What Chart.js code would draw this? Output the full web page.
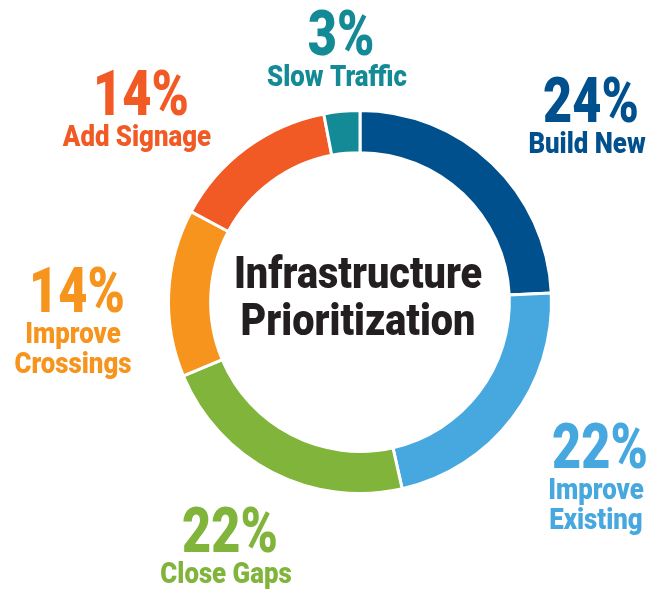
<!DOCTYPE html>
<html>
<head>
<meta charset="utf-8">
<script src="https://cdn.jsdelivr.net/npm/chart.js@4.4.0/dist/chart.umd.min.js"></script>
<style>
  html, body { margin: 0; padding: 0; background: #fff; }
  #wrap { width: 659px; height: 590px; }
</style>
</head>
<body>
<div id="wrap"><canvas id="grafico" width="659" height="590"></canvas></div>
<script>
// datos del grafico
const categorias = ['Build New', 'Improve Existing', 'Close Gaps', 'Improve Crossings', 'Add Signage', 'Slow Traffic'];
const valores = [24, 22, 22, 14, 14, 3];
const colores = ['#00508d', '#46a8df', '#80b43a', '#f7941d', '#f15a24', '#138a96'];

// donde va cada etiqueta (centro x, linea base del %), en el mismo orden
const posEtiquetas = [
  { x: 591, y: 122, lineas: ['Build New'] },
  { x: 600, y: 468, lineas: ['Improve', 'Existing'] },
  { x: 230, y: 552, lineas: ['Close Gaps'] },
  { x: 77, y: 312, lineas: ['Improve', 'Crossings'] },
  { x: 141, y: 115, lineas: ['Add Signage'] },
  { x: 341, y: 55, lineas: ['Slow Traffic'] }
];

// imitar fuente condensada, ancho segun tamano
function texto(ctx, str, x, y, size, color, ancho) {
  ctx.save();
  ctx.translate(x, y);
  ctx.scale(ancho, 1);
  ctx.font = '900 ' + size + 'px Roboto, "Liberation Sans", sans-serif';
  ctx.fillStyle = color;
  ctx.textAlign = 'center';
  ctx.textBaseline = 'alphabetic';
  ctx.fillText(str, 0, 0);
  ctx.restore();
}

const etiquetas = {
  id: 'etiquetas',
  afterDraw(chart) {
    const ctx = chart.ctx;
    const meta = chart.getDatasetMeta(0);
    meta.data.forEach((arc, i) => {
      const p = posEtiquetas[i];
      texto(ctx, valores[i] + '%', p.x, p.y, 63, colores[i], 0.8);
      p.lineas.forEach((l, j) => {
        texto(ctx, l, p.x - 4, p.y + 31 + j * 30, 30, colores[i], 0.86);
      });
    });
    const cx = meta.data[0].x;
    const cy = meta.data[0].y;
    texto(ctx, 'Infrastructure', cx - 2, cy - 14, 44, '#231f20', 0.9);
    texto(ctx, 'Prioritization', cx - 2, cy + 33, 44, '#231f20', 0.9);
  }
};

new Chart(document.getElementById('grafico').getContext('2d'), {
  type: 'doughnut',
  data: {
    labels: categorias,
    datasets: [{
      data: valores,
      backgroundColor: colores,
      borderColor: '#ffffff',
      borderWidth: 3,
      hoverOffset: 0
    }]
  },
  options: {
    responsive: false,
    animation: false,
    cutout: '78%',
    layout: { padding: { left: 167, right: 106, top: 109, bottom: 95 } },
    plugins: {
      legend: { display: false },
      tooltip: { enabled: false }
    }
  },
  plugins: [etiquetas]
});
</script>
</body>
</html>
